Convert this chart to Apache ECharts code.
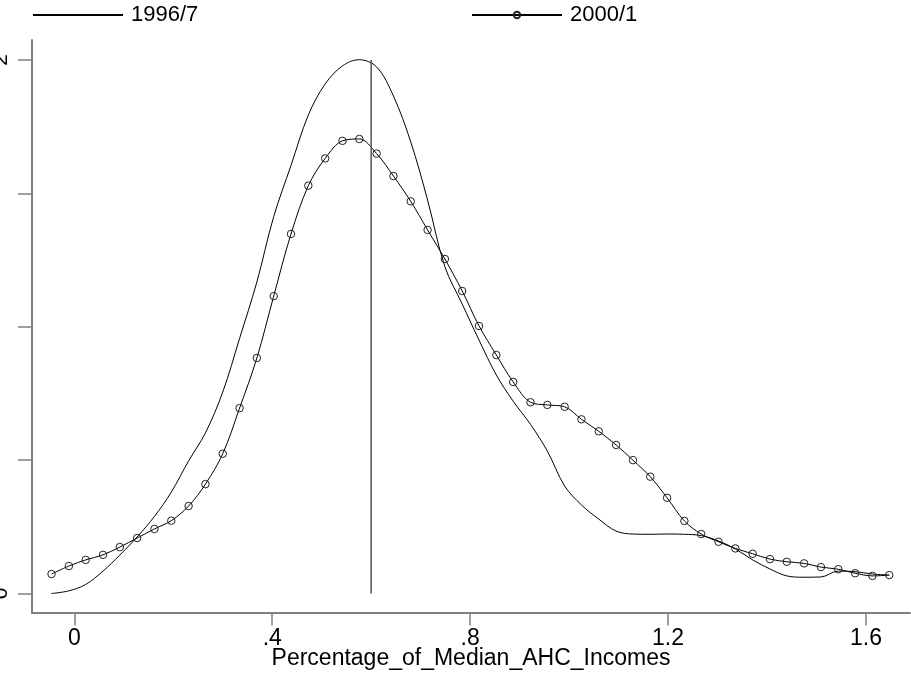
<!DOCTYPE html>
<html>
<head>
<meta charset="utf-8">
<script src="https://cdn.jsdelivr.net/npm/echarts@6/dist/echarts.min.js"></script>
<style>
html,body{margin:0;padding:0;background:#fff;}
#chart{width:911px;height:673px;}
</style>
</head>
<body>
<div id="chart"></div>
<script>
// Evaluation grid (share of median AHC income)
const xGrid = [-0.046,-0.011,0.023,0.058,0.092,0.127,0.162,0.196,0.231,0.265,
  0.300,0.334,0.369,0.403,0.438,0.473,0.507,0.542,0.576,0.611,
  0.645,0.680,0.714,0.749,0.784,0.818,0.853,0.887,0.922,0.956,
  0.991,1.025,1.060,1.095,1.129,1.164,1.198,1.233,1.267,1.302,
  1.336,1.371,1.406,1.440,1.475,1.509,1.544,1.578,1.613,1.647];
// Density 1996/7
const dens1996 = [0.000,0.010,0.034,0.084,0.144,0.212,0.289,0.380,0.497,0.602,
  0.755,0.956,1.168,1.413,1.605,1.794,1.910,1.978,2.001,1.974,
  1.865,1.693,1.475,1.225,1.085,0.950,0.819,0.721,0.634,0.534,
  0.403,0.332,0.279,0.234,0.223,0.222,0.223,0.222,0.217,0.197,
  0.167,0.126,0.092,0.066,0.061,0.062,0.084,0.082,0.073,0.069];
// Density 2000/1
const dens2000 = [0.073,0.103,0.126,0.145,0.174,0.208,0.242,0.273,0.328,0.410,
  0.524,0.695,0.883,1.115,1.348,1.529,1.631,1.697,1.704,1.649,
  1.565,1.470,1.363,1.254,1.134,1.003,0.894,0.793,0.717,0.707,
  0.700,0.653,0.608,0.557,0.500,0.438,0.359,0.272,0.223,0.194,
  0.169,0.149,0.129,0.119,0.113,0.099,0.091,0.076,0.066,0.069];
const seriesNames = ['1996/7', '2000/1'];
const povertyLineX = 0.6;
const povertyLineY = [0, 2];
const xTicks = [0, 0.4, 0.8, 1.2, 1.6];
const yTicks = [0, 0.5, 1, 1.5, 2];
const yLabels = [0, 2];
const xTitle = 'Percentage_of_Median_AHC_Incomes';

const pair = (xs, ys) => xs.map((x, i) => [x, ys[i]]);
const fmt = v => {
  let s = String(+v.toFixed(2));
  if (s.startsWith('0.')) s = s.slice(1);
  return s;
};
const FONT = '"Liberation Sans", Arial, sans-serif';

const chart = echarts.init(document.getElementById('chart'), null, {renderer: 'canvas'});
chart.setOption({
  animation: false,
  backgroundColor: '#fff',
  grid: {left: 32, right: 1, top: 40, bottom: 60.5, containLabel: false, outerBoundsMode: 'none'},
  legend: [
    {
      data: [{name: seriesNames[0], itemStyle: {color: 'rgba(0,0,0,0)', borderWidth: 0}}],
      left: 32, top: 4, itemWidth: 90, itemHeight: 8, padding: 0,
      textStyle: {fontFamily: FONT, fontSize: 22, color: '#000', padding: [0,0,0,3]}
    },
    {
      data: [{name: seriesNames[1]}],
      left: 471, top: 4, itemWidth: 90, itemHeight: 8, padding: 0,
      textStyle: {fontFamily: FONT, fontSize: 22, color: '#000', padding: [0,0,0,3]}
    }
  ],
  xAxis: {
    type: 'value', min: -0.0855, max: 1.689,
    splitLine: {show: false},
    axisLine: {show: true, onZero: false, lineStyle: {color: '#808080', width: 2}},
    axisTick: {show: true, length: 13, customValues: xTicks, lineStyle: {color: '#808080', width: 1.5}},
    axisLabel: {customValues: xTicks, formatter: fmt, margin: 15,
      fontFamily: FONT, fontSize: 23, color: '#000'},
    name: xTitle, nameLocation: 'middle', nameGap: 35, nameMoveOverlap: false,
    nameTextStyle: {fontFamily: FONT, fontSize: 23, color: '#000'}
  },
  yAxis: {
    type: 'value', min: -0.0712, max: 2.075,
    splitLine: {show: false},
    axisLine: {show: true, onZero: false, lineStyle: {color: '#808080', width: 2}},
    axisTick: {show: true, length: 14, customValues: yTicks, lineStyle: {color: '#808080', width: 1.5}},
    axisLabel: {customValues: yLabels, formatter: fmt, rotate: 90, margin: 20,
      fontFamily: FONT, fontSize: 21, color: '#000'}
  },
  series: [
    {
      name: seriesNames[0], type: 'line', data: pair(xGrid, dens1996),
      symbol: 'none', smooth: 0.35,
      lineStyle: {color: '#000', width: 1},
      itemStyle: {color: '#000'}
    },
    {
      name: seriesNames[1], type: 'line', data: pair(xGrid, dens2000),
      symbol: 'circle', symbolSize: 7.5, showSymbol: true, smooth: 0.35,
      lineStyle: {color: '#000', width: 1},
      itemStyle: {color: 'rgba(255,255,255,0)', borderColor: '#222', borderWidth: 1}
    },
    {
      name: 'poverty line', type: 'line',
      data: povertyLineY.map(y => [povertyLineX, y]),
      symbol: 'none', silent: true,
      lineStyle: {color: '#555', width: 1.5}
    }
  ]
});
</script>
</body>
</html>
